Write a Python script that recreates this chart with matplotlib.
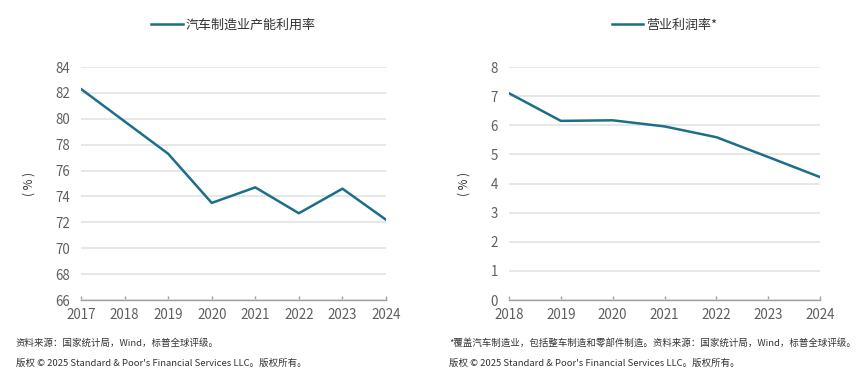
import matplotlib.pyplot as plt

plt.rcParams['font.family'] = ['Noto Sans CJK SC', 'DejaVu Sans']

# данные левого графика
years_left = [2017, 2018, 2019, 2020, 2021, 2022, 2023, 2024]
capacity_util = [82.3, 79.8, 77.3, 73.5, 74.7, 72.7, 74.6, 72.2]

# данные правого графика
years_right = [2018, 2019, 2020, 2021, 2022, 2023, 2024]
profit_margin = [7.1, 6.15, 6.17, 5.96, 5.59, 4.91, 4.22]

left_label = '汽车制造业产能利用率'
right_label = '营业利润率*'

line_color = '#1b6f87'
grid_color = '#e3e3e3'
tick_color = '#5f5f5f'
spine_color = '#a0a0a0'

fig = plt.figure(figsize=(8.65, 3.82), dpi=100)
ax1 = fig.add_axes([81 / 865, 1 - 300 / 382, 305 / 865, 233 / 382])
ax2 = fig.add_axes([509 / 865, 1 - 300 / 382, 311 / 865, 233 / 382])


def style_axes(ax, years, ylim, yticks, label_x):
    ax.set_xlim(years[0], years[-1])
    ax.set_ylim(*ylim)
    ax.set_xticks(years)
    ax.set_yticks(yticks)
    ax.grid(axis='y', color=grid_color, lw=1.2)
    ax.set_axisbelow(True)
    for side in ['top', 'right', 'left']:
        ax.spines[side].set_visible(False)
    ax.spines['bottom'].set_color(spine_color)
    ax.spines['bottom'].set_linewidth(1)
    ax.tick_params(axis='y', length=0, pad=8, labelsize=9.6, labelcolor=tick_color)
    ax.tick_params(axis='x', direction='in', length=3, width=1, color=spine_color,
                   pad=5.5, labelsize=9.6, labelcolor=tick_color)
    ax.set_ylabel('( % )', fontsize=8.5, color='#333333')
    ax.yaxis.set_label_coords(label_x, 0.5)
    ax.legend(loc='center', bbox_to_anchor=(0.5, 1.18), frameon=False,
              fontsize=9.4, handlelength=2.4, handletextpad=0.25,
              labelcolor='#333333')


ax1.plot(years_left, capacity_util, color=line_color, lw=1.8, label=left_label)
style_axes(ax1, years_left, (66, 84), range(66, 85, 2), -0.15)

ax2.plot(years_right, profit_margin, color=line_color, lw=1.8, label=right_label)
style_axes(ax2, years_right, (0, 8), range(0, 9), -0.125)

# подписи внизу
foot_size = 6.8
fig.text(16 / 865, 1 - 343 / 382, '资料来源：国家统计局，Wind，标普全球评级。',
         fontsize=foot_size, color='#333333', va='center')
fig.text(16 / 865, 1 - 363 / 382, '版权 © 2025 Standard & Poor\'s Financial Services LLC。版权所有。',
         fontsize=foot_size, color='#333333', va='center')
fig.text(449 / 865, 1 - 343 / 382,
         '*覆盖汽车制造业，包括整车制造和零部件制造。资料来源：国家统计局，Wind，标普全球评级。',
         fontsize=foot_size, color='#333333', va='center')
fig.text(449 / 865, 1 - 363 / 382, '版权 © 2025 Standard & Poor\'s Financial Services LLC。版权所有。',
         fontsize=foot_size, color='#333333', va='center')

fig.savefig('out.png', dpi=100)
